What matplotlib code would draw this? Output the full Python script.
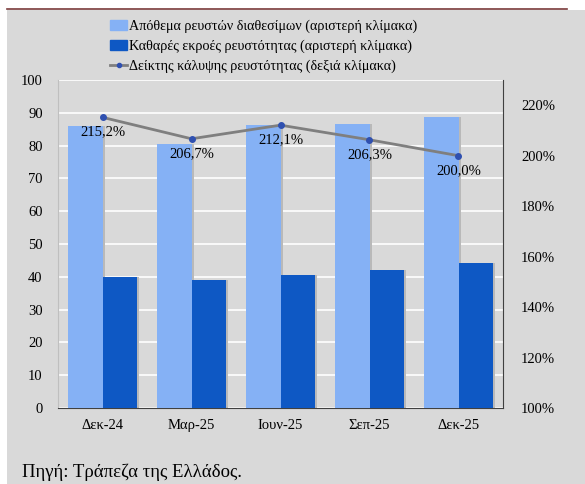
import matplotlib
matplotlib.use("Agg")
import matplotlib.pyplot as plt
from matplotlib.patches import Rectangle
from matplotlib.lines import Line2D
import numpy as np

categories = ["Δεκ-24", "Μαρ-25", "Ιουν-25", "Σεπ-25", "Δεκ-25"]
stock = [86.0, 80.5, 86.3, 86.5, 88.7]
outflows = [40.0, 39.0, 40.5, 42.0, 44.2]
coverage = [215.2, 206.7, 212.1, 206.3, 200.0]
coverage_labels = ["215,2%", "206,7%", "212,1%", "206,3%", "200,0%"]
left_ticks = list(range(0, 101, 10))
right_ticks = list(range(100, 221, 20))

plt.rcParams['font.family'] = ['Liberation Serif', 'DejaVu Serif']

W, H = 585, 484
fig = plt.figure(figsize=(W/100, H/100), dpi=100)
fig.patch.set_facecolor("white")
bg = "#d9d9d9"
fig.add_artist(Rectangle((7/W, 0), 1 - 7/W, (H-10)/H, transform=fig.transFigure,
                         facecolor=bg, edgecolor="none", zorder=0))
fig.add_artist(Line2D([7/W, 567/W], [(H-9)/H, (H-9)/H], transform=fig.transFigure,
                      color="#7a3b3b", lw=1.2, zorder=1))

ax = fig.add_axes([58/W, (H-408)/H, (503-58)/W, (408-80)/H])
ax.set_facecolor(bg)
x = np.arange(len(categories))
bw = 0.39
light = "#85b1f5"
dark = "#0e58c4"
ax.bar(x - bw/2, stock, bw, color=light, zorder=3)
ax.bar(x + bw/2, outflows, bw, color=dark, zorder=3)
# subtle shadows
ax.bar(x - bw/2 + 0.025, stock, bw, color="#b9b9b9", zorder=2)
ax.bar(x + bw/2 + 0.025, outflows, bw, color="#b9b9b9", zorder=2)

ax.set_xlim(-0.5, len(categories) - 0.5)
ax.set_ylim(0, 100)
ax.set_yticks(left_ticks)
ax.yaxis.grid(True, color="white", lw=1.2, zorder=1)
ax.set_axisbelow(True)
ax.set_xticks(x)
ax.set_xticklabels(categories, fontsize=10.5)
ax.tick_params(axis="y", length=0, labelsize=10.5, pad=11)
ax.tick_params(axis="x", length=0, labelsize=10.5, pad=8)
ax.spines["top"].set_visible(False)
ax.spines["left"].set_color("#bfbfbf")
ax.spines["bottom"].set_color("#404040")
ax.spines["right"].set_visible(False)

ax2 = ax.twinx()
ax2.set_ylim(100, 230)
ax2.set_yticks(right_ticks)
ax2.set_yticklabels([f"{v}%" for v in right_ticks])
ax2.tick_params(axis="y", length=0, labelsize=10.5, pad=13)
for s in ["top", "left", "bottom"]:
    ax2.spines[s].set_visible(False)
ax2.spines["right"].set_color("#404040")
ax2.plot(x, coverage, color="#7f7f7f", lw=2, marker="o", markersize=4,
         markerfacecolor="#2f50b0", markeredgecolor="#2f50b0", zorder=5)
for xi, v, lab in zip(x, coverage, coverage_labels):
    ax2.annotate(lab, (xi, v), xytext=(0, -10.5), textcoords="offset points",
                 ha="center", va="center", fontsize=10.5, color="black", zorder=6)

handles = [
    Rectangle((0, 0), 1, 1, color=light),
    Rectangle((0, 0), 1, 1, color=dark),
    Line2D([], [], color="#7f7f7f", lw=2, marker="o", markersize=3,
           markerfacecolor="#2f50b0", markeredgecolor="#2f50b0"),
]
labels = ["Απόθεμα ρευστών διαθεσίμων (αριστερή κλίμακα)",
          "Καθαρές εκροές ρευστότητας (αριστερή κλίμακα)",
          "Δείκτης κάλυψης ρευστότητας (δεξιά κλίμακα)"]
fig.legend(handles, labels, loc="upper left", bbox_to_anchor=(110/W, 1 - 20/H),
           frameon=False, fontsize=10.2, handlelength=1.2, handleheight=0.7,
           handletextpad=0.15, labelspacing=0.45, borderpad=0, borderaxespad=0)

fig.text(22/W, 1 - 472/H, "Πηγή: Τράπεζα της Ελλάδος.", fontsize=13.5, va="center", ha="left")

fig.savefig("out.png", dpi=100, facecolor=fig.get_facecolor())
